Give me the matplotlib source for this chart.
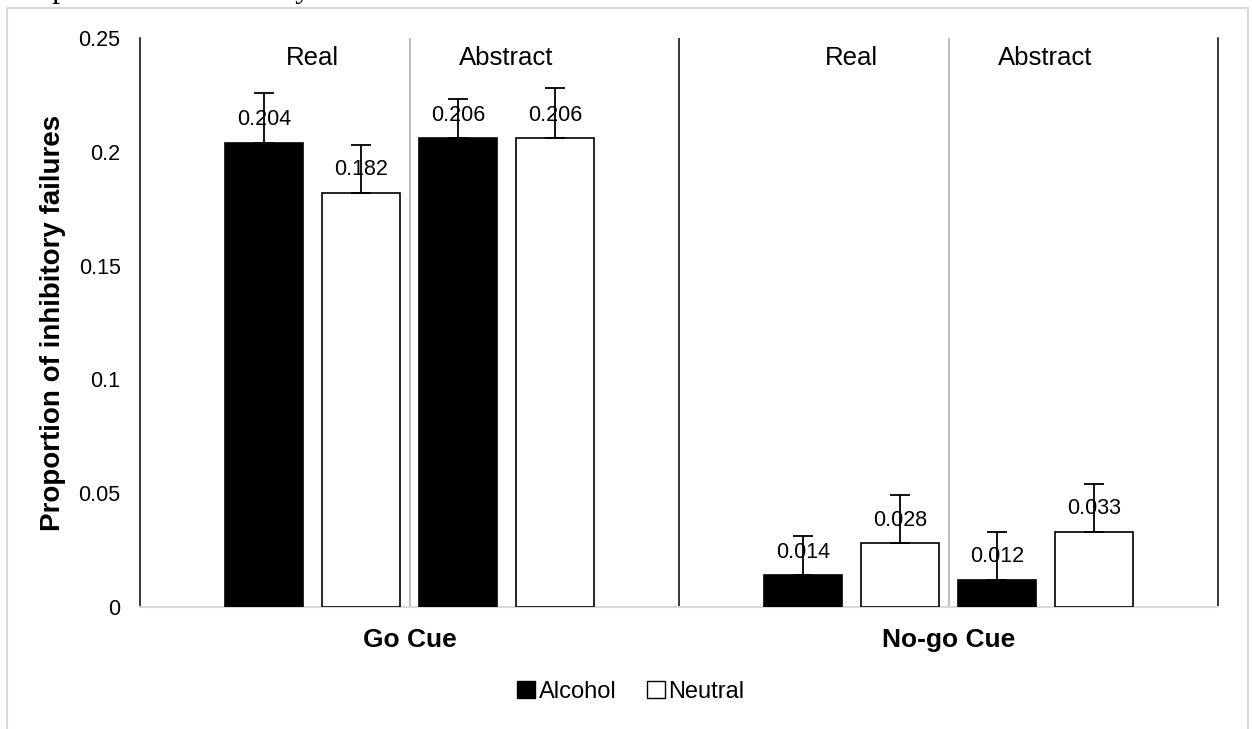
import numpy as np
import matplotlib.pyplot as plt
from matplotlib.patches import Patch, Rectangle

plt.rcParams["font.family"] = ["Liberation Sans", "DejaVu Sans"]

cues = ["Go Cue", "No-go Cue"]
image_types = ["Real", "Abstract"]
conditions = ["Alcohol", "Neutral"]

# bar order inside each cue: Real-Alcohol, Real-Neutral, Abstract-Alcohol, Abstract-Neutral
go_means = [0.204, 0.182, 0.206, 0.206]
go_err = [0.022, 0.021, 0.017, 0.022]
nogo_means = [0.014, 0.028, 0.012, 0.033]
nogo_err = [0.017, 0.021, 0.021, 0.021]

means = [go_means, nogo_means]
errs = [go_err, nogo_err]

W, H = 1252, 729
fig = plt.figure(figsize=(W / 100, H / 100), dpi=100)

# page frame and the caption of the document, cut off at the top edge
fig.add_artist(Rectangle((7 / W, -0.1), (1248 - 7) / W, 1.1 - 8 / H,
                         transform=fig.transFigure, fill=False,
                         edgecolor="#d9d9d9", lw=1.5))
fig.text(8 / W, 1 + 3 / H, "Proportion of inhibitory failures in each condition.",
         family="Liberation Serif", fontsize=22.8, va="baseline", ha="left")

ax = fig.add_axes([140 / W, 1 - 607 / H, (1218 - 140) / W, (607 - 38) / H])

offsets = [-0.27, -0.09, 0.09, 0.27]
bar_w = 0.143
colors = ["black", "white", "black", "white"]

for ci in range(len(cues)):
    for k in range(4):
        x = ci + offsets[k]
        ax.bar(x, means[ci][k], width=bar_w, color=colors[k], edgecolor="black",
               lw=1.2, zorder=3)
        ax.errorbar(x, means[ci][k], yerr=[[0], [errs[ci][k]]], fmt="none",
                    ecolor="black", elinewidth=1.3, capsize=7.5, capthick=1.3, zorder=4)
        ax.annotate(f"{means[ci][k]:.3f}", (x, means[ci][k]), xytext=(0, 16.5),
                    textcoords="offset points", ha="center", va="center",
                    fontsize=15.5, zorder=5)
    for j, name in enumerate(image_types):
        xc = ci + (offsets[2 * j] + offsets[2 * j + 1]) / 2
        ax.text(xc, 0.2412, name, ha="center", va="center", fontsize=18.5)

# separators between cue groups and image types
ax.axvline(0.5, color="black", lw=1.1, zorder=2)
for ci in range(len(cues)):
    ax.axvline(ci, color="#bfbfbf", lw=1.5, zorder=2)

ax.set_xlim(-0.5, 1.5)
ax.set_ylim(0, 0.25)
ax.set_yticks([0, 0.05, 0.1, 0.15, 0.2, 0.25], labels=["0", "0.05", "0.1", "0.15", "0.2", "0.25"])
ax.set_xticks(range(len(cues)), labels=cues, fontsize=19, fontweight="bold")
ax.tick_params(axis="y", length=0, pad=14, labelsize=15.5)
ax.tick_params(axis="x", length=0, pad=15)
ax.set_ylabel("Proportion of inhibitory failures", fontsize=20, fontweight="bold", labelpad=9)

ax.spines["top"].set_visible(False)
ax.spines["left"].set_color("black")
ax.spines["left"].set_linewidth(1.1)
ax.spines["right"].set_color("black")
ax.spines["right"].set_linewidth(1.1)
ax.spines["bottom"].set_color("#d9d9d9")
ax.spines["bottom"].set_linewidth(1.5)

handles = [Patch(facecolor="black", edgecolor="black", label=conditions[0]),
           Patch(facecolor="white", edgecolor="black", label=conditions[1])]
fig.legend(handles=handles, loc="center", bbox_to_anchor=(631 / W, 1 - 692 / H),
           ncol=2, frameon=False, fontsize=17, handlelength=0.75, handleheight=0.75,
           handletextpad=0.15, columnspacing=1.3)

fig.savefig("out.png", dpi=100)
